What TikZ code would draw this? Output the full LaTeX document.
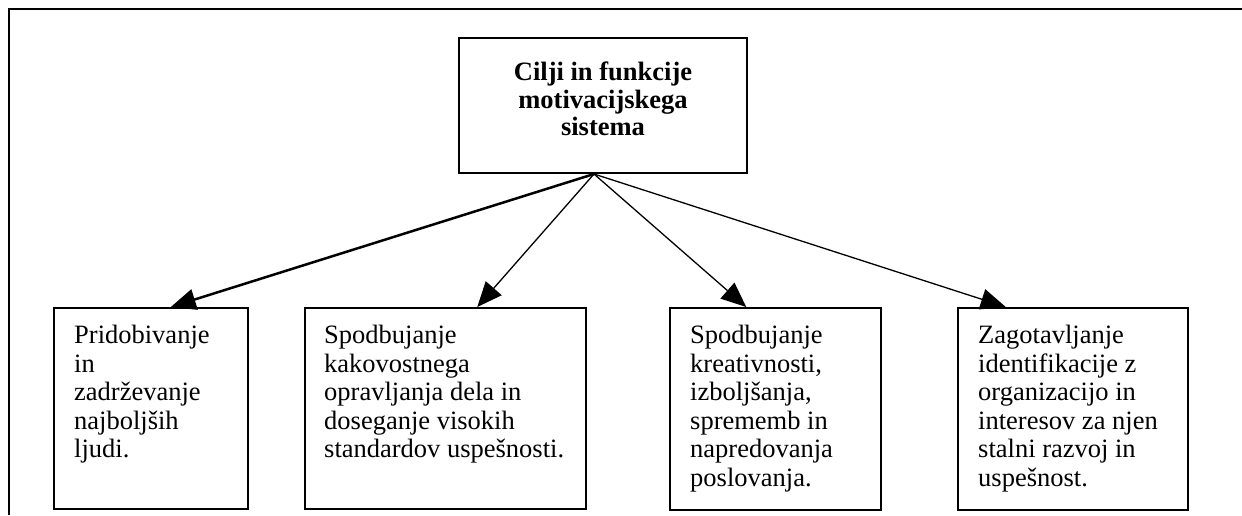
\documentclass[tikz,border=0pt]{standalone}
\usepackage{fontspec}
\setmainfont{Liberation Serif}
\usetikzlibrary{arrows.meta,calc}
\begin{document}
\begin{tikzpicture}[x=1pt,y=-1pt,
  box/.style={draw, line width=1.5pt, inner sep=0pt, anchor=north west},
  topbox/.style={box, line width=2pt},
  lbl/.style={inner sep=0pt, anchor=north west, align=left,
    font=\fontsize{26.5}{28.5}\selectfont},
  ttl/.style={inner sep=0pt, anchor=north, align=center,
    font=\fontsize{26.5}{27.5}\selectfont\bfseries},
  link/.style={-{Triangle[length=25pt,width=21pt]}, line width=1.3pt},
  boldlink/.style={link, line width=2.5pt},
  frame/.style={line width=2.5pt, line join=miter}
]
\useasboundingbox (0,0) rectangle (1242,515);

% outer frame (top and left edges)
\draw[frame] (9,515) -- (9,9) -- (1242,9);

% central box
\node[topbox, minimum width=288pt, minimum height=135pt] (top) at (458,37) {};
\node[ttl] (title) at ($(top.north)+(0,25)$)
  {Cilji in funkcije\\motivacijskega\\sistema};

% goal boxes
\node[box, minimum width=194pt, minimum height=201pt] (b1) at (53,307) {};
\node[box, minimum width=281pt, minimum height=201pt] (b2) at (304,307) {};
\node[box, minimum width=211pt, minimum height=202pt] (b3) at (669,307) {};
\node[box, minimum width=230pt, minimum height=202pt] (b4) at (957,307) {};

\node[lbl] (t1) at ($(b1.north west)+(21,18)$)
  {Pridobivanje\\in\\zadrževanje\\najboljših\\ljudi.};
\node[lbl] (t2) at ($(b2.north west)+(20,18)$)
  {Spodbujanje\\kakovostnega\\opravljanja dela in\\doseganje visokih\\standardov uspešnosti.};
\node[lbl] (t3) at ($(b3.north west)+(21,18)$)
  {Spodbujanje\\kreativnosti,\\izboljšanja,\\sprememb in\\napredovanja\\poslovanja.};
\node[lbl] (t4) at ($(b4.north west)+(21,18)$)
  {Zagotavljanje\\identifikacije z\\organizacijo in\\interesov za njen\\stalni razvoj in\\uspešnost.};

% connectors
\coordinate (src) at ($(top.south)+(-9,0)$);
\coordinate (e1) at ($(b1.north)+(20,0)$);
\coordinate (e2) at ($(b2.north)+(32,0)$);
\coordinate (e3) at ($(b3.north)+(-29,0)$);
\coordinate (e4) at ($(b4.north)+(-67,0)$);
\draw[boldlink] (src) -- (e1);
\draw[link] (src) -- (e2);
\draw[link] (src) -- (e3);
\draw[link] (src) -- (e4);
\end{tikzpicture}
\end{document}
